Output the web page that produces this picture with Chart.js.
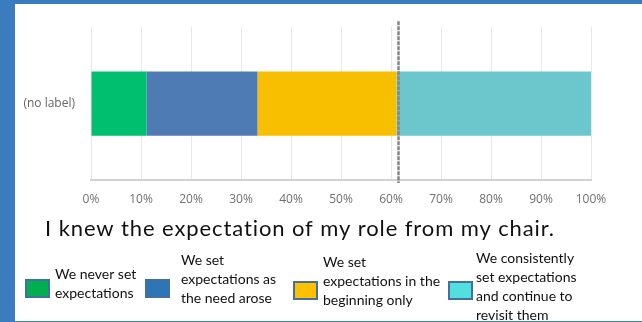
<!DOCTYPE html>
<html>
<head>
<meta charset="utf-8">
<script src="https://cdn.jsdelivr.net/npm/chart.js@4.4.1/dist/chart.umd.min.js"></script>
<style>
  html, body { margin: 0; padding: 0; background: #fff; }
  .frame {
    position: absolute; left: 0; top: 0;
    width: 642px; height: 322px; box-sizing: border-box;
    border-top: 4px solid #3b7cbf;
    border-left: 15px solid #3b7cbf;
    border-bottom: 1px solid #3b7cbf;
    background: #fff;
  }
  .frame canvas { display: block; }
</style>
</head>
<body>
<div class="frame"><canvas id="surveyBar" width="627" height="317"></canvas></div>
<script>
// data
const categories = ['(no label)'];
const answerLabels = [
  ['We never set', 'expectations'],
  ['We set', 'expectations as', 'the need arose'],
  ['We set', 'expectations in the', 'beginning only'],
  ['We consistently', 'set expectations', 'and continue to', 'revisit them']
];
const answerShares = [11.1, 22.2, 27.8, 38.9];
const tickLabels = ['0%', '10%', '20%', '30%', '40%', '50%', '60%', '70%', '80%', '90%', '100%'];
const markerValue = 61.5;
const chartTitle = 'I knew the expectation of my role from my chair.';

// styles
const barColors = ['#00bf6f', '#4f7bb5', '#f8be00', '#6cc7cc'];
const legendColors = ['#00b050', '#2e75b6', '#ffc000', '#52dfdf'];

const markerLine = {
  id: 'markerLine',
  afterDatasetsDraw(chart) {
    const { ctx, chartArea, scales } = chart;
    const x = scales.x.getPixelForValue(markerValue);
    ctx.save();
    ctx.strokeStyle = '#858585';
    ctx.lineWidth = 2.5;
    ctx.setLineDash([4, 1]);
    ctx.beginPath();
    ctx.moveTo(x, chartArea.top - 6);
    ctx.lineTo(x, chartArea.bottom + 3);
    ctx.stroke();
    ctx.restore();
  }
};

// title + legend sit under the axis like in the slide
const footer = {
  id: 'footer',
  afterDraw(chart) {
    const ctx = chart.ctx;
    ctx.save();
    ctx.fillStyle = '#111';
    ctx.font = '22px Lato';
    ctx.letterSpacing = '0.9px';
    ctx.textAlign = 'center';
    ctx.textBaseline = 'middle';
    ctx.fillText(chartTitle, 285, 225);
    ctx.letterSpacing = '0px';

    const boxX = [11, 131, 279, 434];
    const boxY = [276, 276, 278, 278];
    const textX = [40, 166, 308, 461];
    const textY = [270, 256, 258, 254];
    ctx.textAlign = 'left';
    ctx.font = '14px Lato';
    answerLabels.forEach((lines, i) => {
      ctx.fillStyle = legendColors[i];
      ctx.fillRect(boxX[i], boxY[i], 23, 17);
      ctx.strokeStyle = '#41719c';
      ctx.lineWidth = 2;
      ctx.strokeRect(boxX[i], boxY[i], 23, 17);
      ctx.fillStyle = '#111';
      lines.forEach((line, j) => ctx.fillText(line, textX[i], textY[i] + j * 19));
    });
    ctx.restore();
  }
};

new Chart(document.getElementById('surveyBar'), {
  type: 'bar',
  data: {
    labels: categories,
    datasets: answerLabels.map((lbl, i) => ({
      label: lbl.join(' '),
      data: [answerShares[i]],
      backgroundColor: barColors[i],
      borderWidth: 0,
      categoryPercentage: 1,
      barPercentage: 0.42
    }))
  },
  options: {
    indexAxis: 'y',
    responsive: false,
    animation: false,
    layout: { padding: { top: 22, right: 51, bottom: 111, left: 0 } },
    scales: {
      x: {
        stacked: true,
        min: 0,
        max: 100,
        afterFit: (s) => { s.height = 30; },
        ticks: {
          stepSize: 10,
          padding: 12,
          color: '#707070',
          font: { family: 'Open Sans', size: 12 },
          callback: (v, i) => tickLabels[i]
        },
        grid: { color: '#e8e8e8', drawTicks: false },
        border: { color: '#d2d2d2', width: 2 }
      },
      y: {
        stacked: true,
        afterFit: (s) => { s.width = 76; },
        ticks: {
          padding: 16,
          color: '#666',
          font: { family: 'Open Sans', size: 12 }
        },
        grid: { display: false, drawTicks: false },
        border: { display: false }
      }
    },
    plugins: {
      legend: { display: false },
      tooltip: { enabled: false }
    }
  },
  plugins: [markerLine, footer]
});
</script>
</body>
</html>
